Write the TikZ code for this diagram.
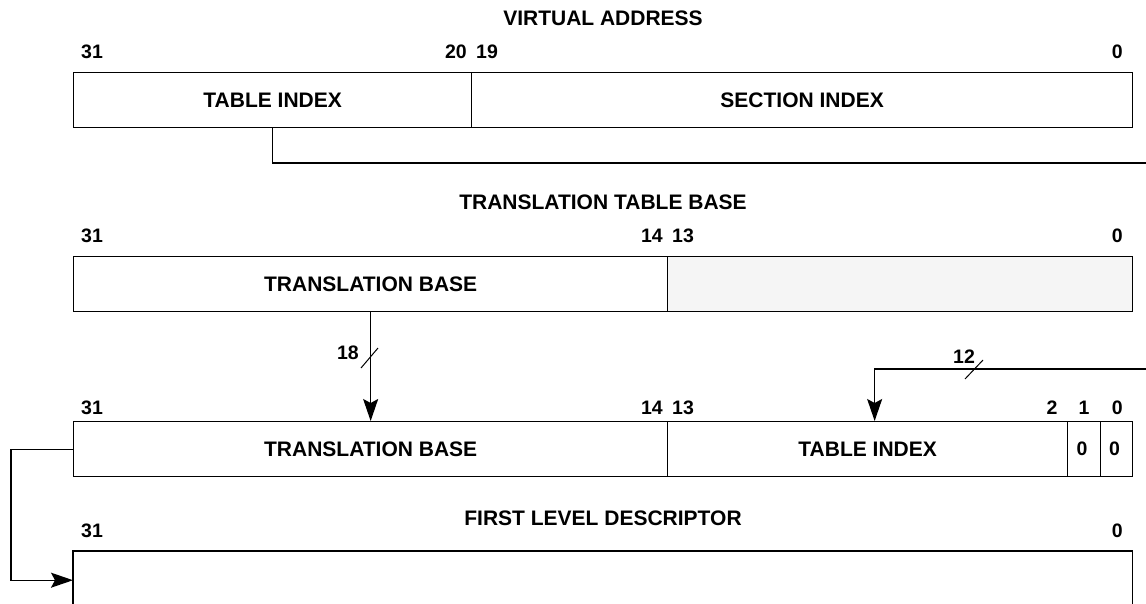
\documentclass[tikz,border=0pt]{standalone}
\usepackage{fontspec}
\setmainfont{Liberation Sans}
\usetikzlibrary{arrows.meta}
\begin{document}
\begin{tikzpicture}[x=1pt,y=-1pt,
  field/.style={draw, line width=1.3pt, anchor=north west, inner sep=0pt, minimum height=55pt,
    font=\bfseries\fontsize{21}{24}\selectfont},
  openfield/.style={anchor=north west, inner sep=0pt, minimum height=58pt, minimum width=1059pt},
  bitnum/.style={font=\bfseries\fontsize{19.5}{22}\selectfont, inner sep=0pt},
  title/.style={font=\bfseries\fontsize{21}{24}\selectfont, inner sep=0pt},
  conn/.style={line width=1.3pt},
  arr/.style={conn, -{Stealth[length=22pt,width=15pt,inset=4pt]}},
  slash/.style={line width=1pt},
  ]
\useasboundingbox (0,0) rectangle (1146,603);

% ---------- Virtual address ----------
\node[title] (t1) at (603,18) {VIRTUAL ADDRESS};
\node[bitnum, anchor=west] (n1a) at (81,52) {31};
\node[bitnum, anchor=east] (n1b) at (467,52) {20};
\node[bitnum, anchor=west] (n1c) at (476,52) {19};
\node[bitnum, anchor=east] (n1d) at (1123,52) {0};
\node[field, minimum width=398pt] (vti) at (73,72) {TABLE INDEX};
\node[field, minimum width=661pt] (vsi) at (471,72) {SECTION INDEX};

% ---------- Translation table base ----------
\node[title] (t2) at (603,202) {TRANSLATION TABLE BASE};
\node[bitnum, anchor=west] (n2a) at (81,236) {31};
\node[bitnum, anchor=east] (n2b) at (663,236) {14};
\node[bitnum, anchor=west] (n2c) at (672,236) {13};
\node[bitnum, anchor=east] (n2d) at (1123,236) {0};
\node[field, minimum width=594pt] (tb2) at (73,256) {TRANSLATION BASE};
\node[field, minimum width=465pt, fill={rgb,255:red,245;green,245;blue,245}] (gr2) at (667,256) {};

% ---------- Descriptor address ----------
\node[bitnum, anchor=west] (n3a) at (81,408) {31};
\node[bitnum, anchor=east] (n3b) at (663,408) {14};
\node[bitnum, anchor=west] (n3c) at (672,408) {13};
\node[bitnum] (n3d) at (1052,408) {2};
\node[bitnum] (n3e) at (1084,408) {1};
\node[bitnum, anchor=east] (n3f) at (1123,408) {0};
\node[field, minimum width=594pt] (tb3) at (73,421) {TRANSLATION BASE};
\node[field, minimum width=400pt] (ti3) at (667,421) {TABLE INDEX};
\node[field, minimum width=33pt] (z1) at (1067,421) {};
\node[field, minimum width=32pt] (z0) at (1100,421) {};
\node[bitnum] (z1t) at ([xshift=-2pt]z1.center) {0};
\node[bitnum] (z0t) at ([xshift=-2pt]z0.center) {0};

% ---------- First level descriptor ----------
\node[title] (t4) at (603,518) {FIRST LEVEL DESCRIPTOR};
\node[bitnum, anchor=west] (n4a) at (81,531) {31};
\node[bitnum, anchor=east] (n4b) at (1123,531) {0};
\node[openfield] (fld) at (73,551) {};
\draw[conn] (fld.south west) -- (fld.north west) -- (fld.north east) -- (fld.south east);

% ---------- Connectors ----------
\coordinate (e1) at (1150,163);
\draw[conn] (vti.south) |- (e1);

\draw[arr] (tb2.south) -- (tb3.north);
\draw[slash] (361,368) -- (378,348);
\node[bitnum, anchor=east] (l18) at (359,353) {18};

\coordinate (e2) at (1150,369);
\draw[arr] (e2) -| ([xshift=7pt]ti3.north);
\draw[slash] (965,379) -- (983,360);
\node[bitnum] (l12) at (964,357) {12};

\draw[arr] (tb3.west) -- ++(-62,0) |- (fld.west);
\end{tikzpicture}
\end{document}
